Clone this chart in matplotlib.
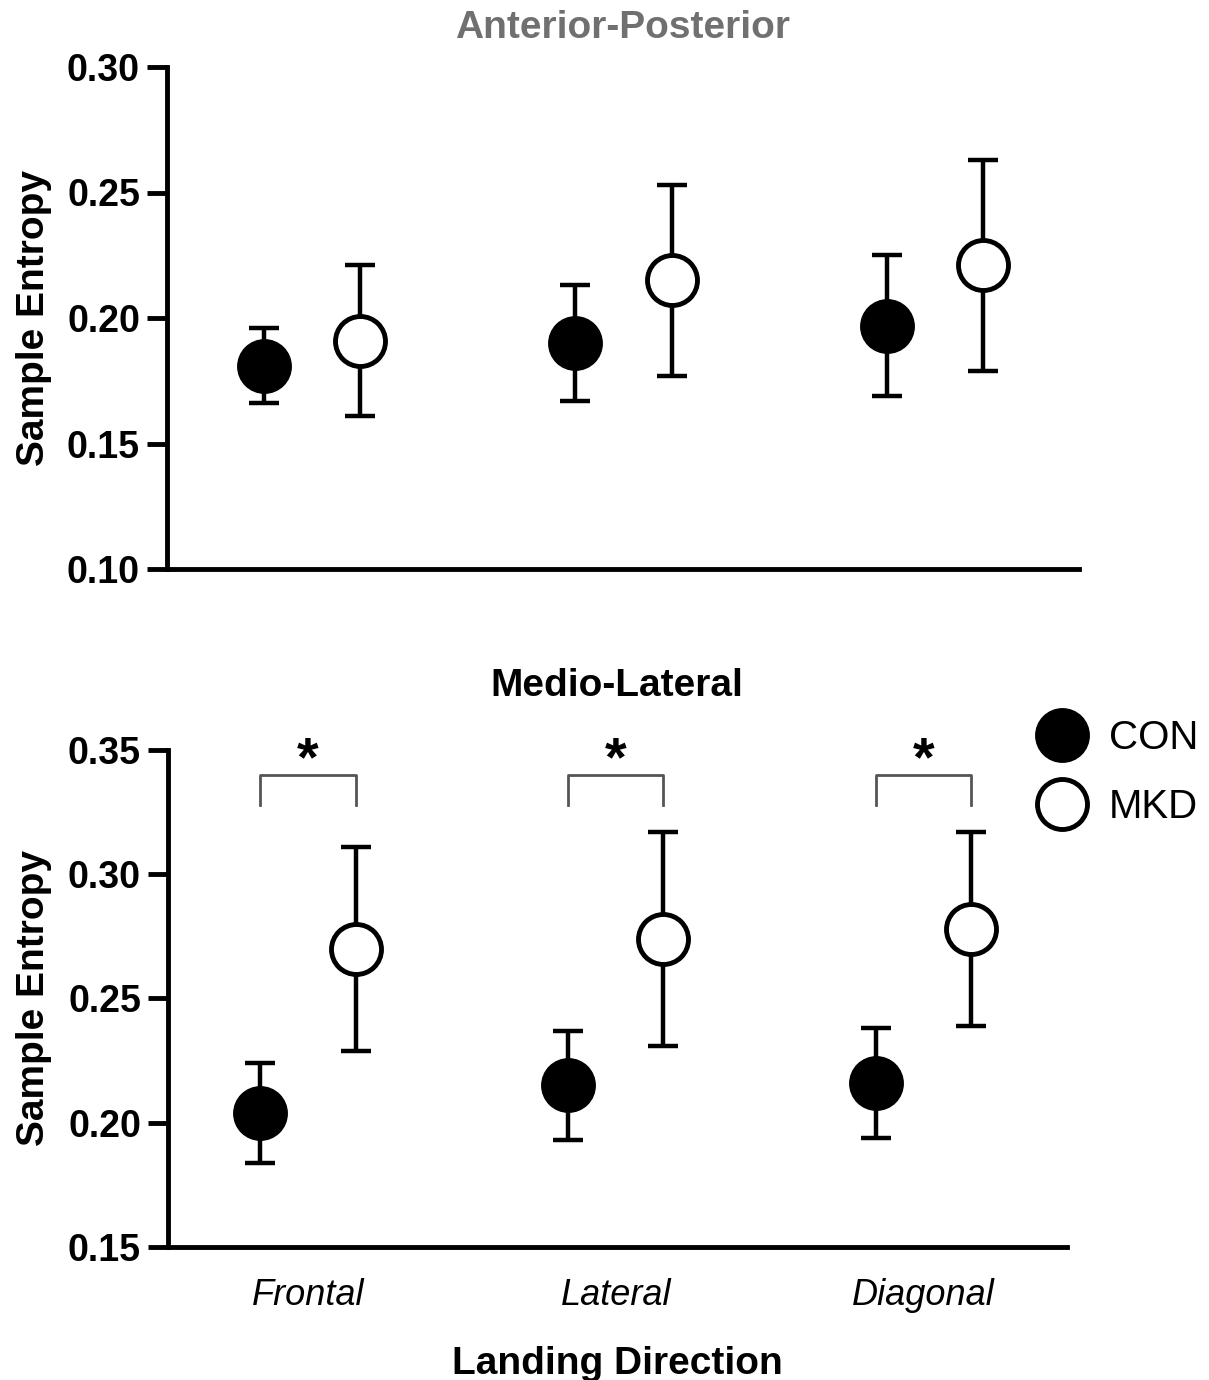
import numpy as np
import matplotlib
matplotlib.use("Agg")
import matplotlib.pyplot as plt
from matplotlib import transforms

plt.rcParams['font.family'] = ['Liberation Sans', 'DejaVu Sans']

directions = ['Frontal', 'Lateral', 'Diagonal']
groups = ['CON', 'MKD']

# Anterior-Posterior: mean and SD
ap_con = [0.181, 0.190, 0.197]
ap_con_sd = [0.015, 0.023, 0.028]
ap_mkd = [0.191, 0.215, 0.221]
ap_mkd_sd = [0.030, 0.038, 0.042]

# Medio-Lateral: mean and SD
ml_con = [0.204, 0.215, 0.216]
ml_con_sd = [0.020, 0.022, 0.022]
ml_mkd = [0.270, 0.274, 0.278]
ml_mkd_sd = [0.041, 0.043, 0.039]

# significance brackets (bottom panel)
sig_top = 0.340
sig_leg = 0.328

off = 0.155
x = np.arange(len(directions))

W, H = 1209, 1380
fig = plt.figure(figsize=(W / 100, H / 100), dpi=100)
ax1 = fig.add_axes([167/W, 1-569/H, (1079-167)/W, (569-67)/H])
ax2 = fig.add_axes([168/W, 1-1247/H, (1067-168)/W, (1247-750)/H])


def draw(ax, con, con_sd, mkd, mkd_sd):
    ax.errorbar(x - off, con, yerr=con_sd, fmt='none', ecolor='black',
                elinewidth=3.2, capsize=10.5, capthick=3.2, zorder=2)
    ax.errorbar(x + off, mkd, yerr=mkd_sd, fmt='none', ecolor='black',
                elinewidth=3.2, capsize=10.5, capthick=3.2, zorder=2)
    h1, = ax.plot(x - off, con, 'o', ms=36, mfc='black', mec='black',
                  mew=3.5, ls='none', zorder=3, label=groups[0])
    h2, = ax.plot(x + off, mkd, 'o', ms=36, mfc='white', mec='black',
                  mew=3.5, ls='none', zorder=3, label=groups[1])
    for s in ['top', 'right']:
        ax.spines[s].set_visible(False)
    for s in ['left', 'bottom']:
        ax.spines[s].set_linewidth(3.5)
    ax.tick_params(axis='y', length=14.5, width=3.5, labelsize=27, pad=5)
    ax.set_ylabel('Sample Entropy', fontsize=28, fontweight='bold')
    return h1, h2


draw(ax1, ap_con, ap_con_sd, ap_mkd, ap_mkd_sd)
ax1.set_ylim(0.10, 0.30)
ax1.set_xlim(-0.466, 2.463)
ax1.set_yticks([0.10, 0.15, 0.20, 0.25, 0.30])
ax1.set_yticklabels(['0.10', '0.15', '0.20', '0.25', '0.30'], fontweight='bold')
ax1.set_xticks([])
ax1.yaxis.set_label_coords(-0.126, 0.5)

h1, h2 = draw(ax2, ml_con, ml_con_sd, ml_mkd, ml_mkd_sd)
ax2.set_ylim(0.15, 0.35)
ax2.set_xlim(-0.455, 2.467)
ax2.set_yticks([0.15, 0.20, 0.25, 0.30, 0.35])
ax2.set_yticklabels(['0.15', '0.20', '0.25', '0.30', '0.35'], fontweight='bold')
ax2.set_xticks(x)
ax2.set_xticklabels(directions, fontsize=26, style='italic')
ax2.tick_params(axis='x', length=0, pad=22)
ax2.yaxis.set_label_coords(-0.129, 0.5)
ax2.set_xlabel('Landing Direction', fontsize=28, fontweight='bold', labelpad=24)

for i in x:
    ax2.plot([i - off, i - off, i + off, i + off],
             [sig_leg, sig_top, sig_top, sig_leg],
             color='#555555', lw=2, clip_on=False)
    ax2.text(i, sig_top, '*', ha='center', va='baseline', fontsize=40,
             fontweight='bold', clip_on=False)

fig.text(623/W, 1-28/H, 'Anterior-Posterior', ha='center', va='center',
         fontsize=28, fontweight='bold', color='#707070')
fig.text(617/W, 1-686/H, 'Medio-Lateral', ha='center', va='center',
         fontsize=28, fontweight='bold', color='black')

fig.legend(handles=[h1, h2], loc='upper left',
           bbox_to_anchor=(1022/W, 1-703/H), frameon=False,
           fontsize=29, handletextpad=0.55, labelspacing=0.77, markerscale=1.0,
           handlelength=1.2, borderaxespad=0)

fig.savefig('out.png', dpi=100)
